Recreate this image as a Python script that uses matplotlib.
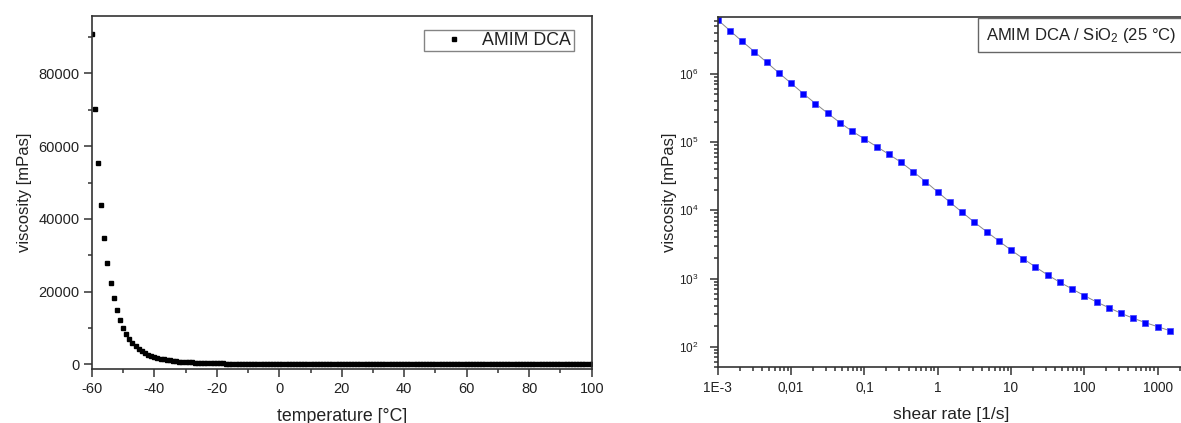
import numpy as np
import matplotlib
matplotlib.use("Agg")
import matplotlib.pyplot as plt
from matplotlib.ticker import MultipleLocator, LogLocator, NullFormatter

plt.rcParams['font.family'] = ['Liberation Sans', 'DejaVu Sans']
plt.rcParams['mathtext.fontset'] = 'custom'
plt.rcParams['mathtext.rm'] = 'Liberation Sans'
plt.rcParams['axes.unicode_minus'] = False


# ── Data ──────────────────────────────────────────────────────────────────────

# left panel: viscosity vs temperature, 1 °C steps from -60 to 100
temperature = np.arange(-60, 101)
visc_temp = [
    90800, 70300, 55400, 43900, 34800, 27900, 22400, 18300, 14800, 12200,
    10100, 8350, 6970, 5840, 4920, 4170, 3550, 3040, 2620, 2270,
    1970, 1720, 1510, 1330, 1170, 1040, 925, 826, 740, 665,
    599, 541, 490, 445, 405, 369, 337, 309, 283, 260,
    240, 221, 204, 189, 175, 163, 151, 141, 131, 122,
    114, 107, 100, 93.7, 87.9, 82.6, 77.7, 73.1, 68.9, 65.0,
    61.3, 57.9, 54.8, 51.8, 49.1, 46.5, 44.1, 41.9, 39.8, 37.8,
    36.0, 34.3, 32.7, 31.2, 29.7, 28.4, 27.1, 25.9, 24.8, 23.7,
    22.7, 21.8, 20.9, 20.0, 19.2, 18.5, 17.7, 17.1, 16.4, 15.8,
    15.2, 14.7, 14.1, 13.6, 13.2, 12.7, 12.3, 11.9, 11.5, 11.1,
    10.7, 10.4, 10.1, 9.76, 9.47, 9.19, 8.92, 8.66, 8.42, 8.18,
    7.95, 7.73, 7.52, 7.32, 7.12, 6.94, 6.76, 6.59, 6.42, 6.26,
    6.11, 5.96, 5.82, 5.68, 5.55, 5.42, 5.30, 5.18, 5.06, 4.95,
    4.84, 4.74, 4.64, 4.54, 4.45, 4.36, 4.27, 4.18, 4.10, 4.02,
    3.94, 3.87, 3.80, 3.73, 3.66, 3.59, 3.53, 3.47, 3.41, 3.35,
    3.29, 3.24, 3.19, 3.13, 3.08, 3.04, 2.99, 2.94, 2.90, 2.86,
    2.81,
]

# right panel: viscosity vs shear rate (AMIM DCA / SiO2, 25 °C)
shear_rate = [
    0.001, 0.00147, 0.00215, 0.00316, 0.00464, 0.00681,
    0.01, 0.0147, 0.0215, 0.0316, 0.0464, 0.0681,
    0.1, 0.147, 0.215, 0.316, 0.464, 0.681,
    1, 1.47, 2.15, 3.16, 4.64, 6.81,
    10, 14.7, 21.5, 31.6, 46.4, 68.1,
    100, 147, 215, 316, 464, 681,
    1000, 1470,
]
visc_shear = [
    6.2e6, 4.3e6, 3.0e6, 2.12e6, 1.48e6, 1.035e6,
    7.3e5, 5.14e5, 3.67e5, 2.65e5, 1.93e5, 1.445e5,
    1.115e5, 8.6e4, 6.65e4, 5.07e4, 3.69e4, 2.64e4,
    1.86e4, 1.315e4, 9.4e3, 6.7e3, 4.88e3, 3.56e3,
    2.62e3, 1.96e3, 1.48e3, 1.13e3, 883, 705,
    562, 454, 375, 310, 262, 226,
    197, 172,
]

x_tick_vals   = [1e-3, 1e-2, 1e-1, 1, 10, 100, 1000]
x_tick_labels = ["1E-3", "0,01", "0,1", "1", "10", "100", "1000"]
y_tick_vals   = [1e2, 1e3, 1e4, 1e5, 1e6]
y_tick_labels = [r"$\mathregular{10^{%d}}$" % e for e in range(2, 7)]


# ── Style helpers ─────────────────────────────────────────────────────────────

SPINE = "#333333"
TEXT  = "#222222"

def style_axes(ax):
    for side in ["left", "right", "top", "bottom"]:
        ax.spines[side].set_color(SPINE)
        ax.spines[side].set_linewidth(1.2)
    ax.tick_params(which="both", direction="out", color=SPINE, width=1.1,
                   top=False, right=False, labelcolor=TEXT)
    ax.tick_params(which="major", length=5.8, pad=3)
    ax.tick_params(which="minor", length=3.2)


# ── Figure ────────────────────────────────────────────────────────────────────

fig = plt.figure(figsize=(11.81, 4.23), dpi=100)

# left panel
ax1 = fig.add_axes([91.8 / 1181, 1 - 369.3 / 423, 499.9 / 1181, 353.6 / 423])
ax1.plot(temperature, visc_temp, linestyle="none", marker="s",
         markersize=2.4, color="black", label="AMIM DCA")
ax1.set_xlim(-60, 100)
ax1.set_ylim(-1400, 95900)
ax1.xaxis.set_major_locator(MultipleLocator(20))
ax1.xaxis.set_minor_locator(MultipleLocator(10))
ax1.yaxis.set_major_locator(MultipleLocator(20000))
ax1.yaxis.set_minor_locator(MultipleLocator(10000))
style_axes(ax1)
ax1.tick_params(which="major", labelsize=10.5)
ax1.set_xlabel("temperature [°C]", fontsize=12.8, color=TEXT, labelpad=9)
ax1.set_ylabel("viscosity [mPas]", fontsize=12, color=TEXT, labelpad=5)
leg = ax1.legend(loc="upper right", bbox_to_anchor=(0.9636, 0.9605),
                 borderaxespad=0, fancybox=False, fontsize=12.8,
                 handletextpad=0.05, handlelength=3.1, markerscale=1.25,
                 borderpad=0.12, labelcolor=TEXT)
leg.get_frame().set_edgecolor("#666666")
leg.get_frame().set_linewidth(1.0)

# right panel (runs off the right edge of the figure like the original)
ax2 = fig.add_axes([717.8 / 1181, 1 - 367.3 / 423, 467.2 / 1181, 350.6 / 423])
ax2.plot(shear_rate, visc_shear, linestyle="-", linewidth=0.7, color="#888888",
         marker="s", markersize=5, markerfacecolor="#0000ff",
         markeredgecolor="#4a4aff", markeredgewidth=0.6)
ax2.set_xscale("log")
ax2.set_yscale("log")
ax2.set_xlim(1e-3, 10 ** 3.374)
ax2.set_ylim(50, 6.9e6)
ax2.set_xticks(x_tick_vals, x_tick_labels)
ax2.set_yticks(y_tick_vals, y_tick_labels)
ax2.xaxis.set_minor_locator(LogLocator(base=10, subs=np.arange(2, 10)))
ax2.yaxis.set_minor_locator(LogLocator(base=10, subs=np.arange(2, 10)))
ax2.xaxis.set_minor_formatter(NullFormatter())
ax2.yaxis.set_minor_formatter(NullFormatter())
style_axes(ax2)
ax2.tick_params(axis="x", which="major", labelsize=9.8, pad=4)
ax2.tick_params(axis="y", which="major", labelsize=8.5, pad=8)
ax2.set_xlabel("shear rate [1/s]", fontsize=12.5, color=TEXT, labelpad=9)
ax2.set_ylabel("viscosity [mPas]", fontsize=12, color=TEXT, labelpad=1.5)
ax2.text(0.574, 0.947, r"AMIM DCA / SiO$\mathregular{_2}$ (25 °C)",
         transform=ax2.transAxes, fontsize=12, color=TEXT,
         ha="left", va="center",
         bbox=dict(boxstyle="square,pad=0.45", facecolor="white",
                   edgecolor="#666666", linewidth=1.0))

fig.savefig("out.png", dpi=100)
